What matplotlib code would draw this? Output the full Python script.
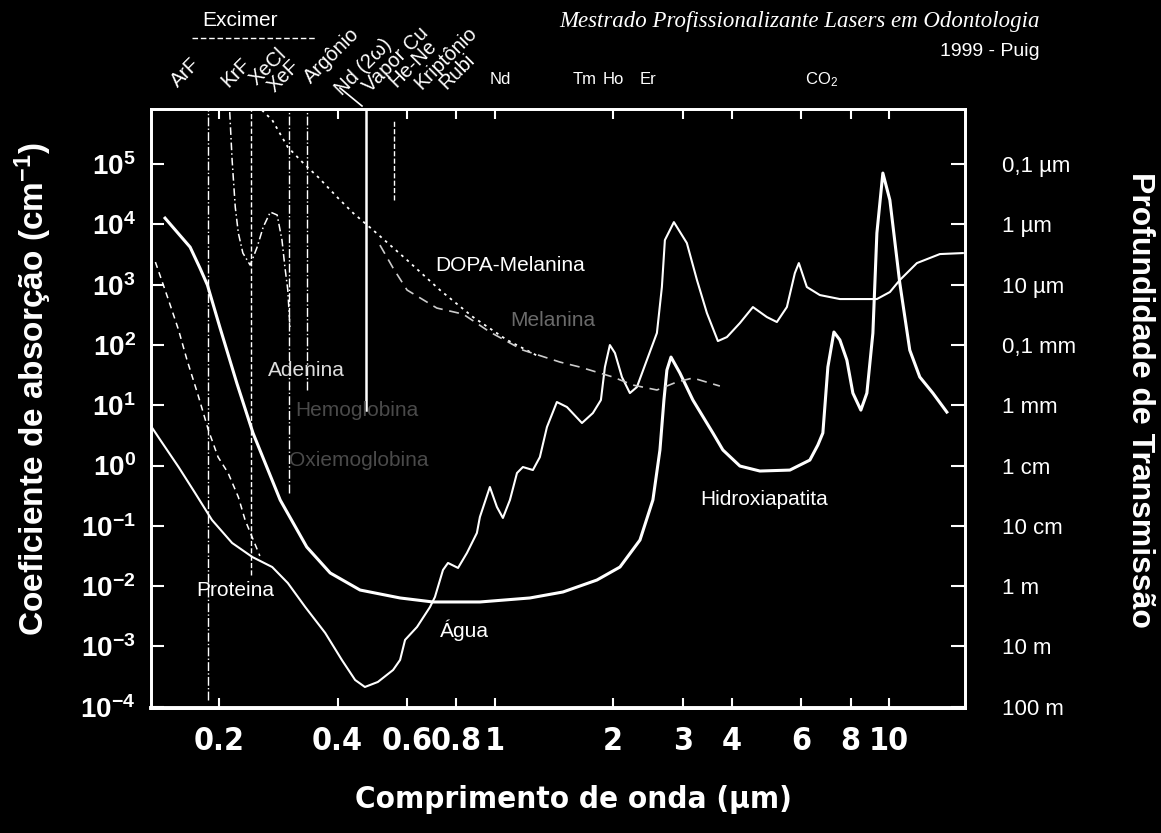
import matplotlib
matplotlib.use('Agg')
import matplotlib.pyplot as plt
from matplotlib.lines import Line2D
from matplotlib.ticker import NullLocator
from matplotlib import font_manager

plt.rcParams['font.family'] = ['Liberation Sans', 'DejaVu Sans']
plt.rcParams['mathtext.fontset'] = 'custom'
plt.rcParams['mathtext.rm'] = 'Liberation Sans'
plt.rcParams['mathtext.bf'] = 'Liberation Sans:bold'
plt.rcParams['mathtext.default'] = 'bf'

## data (wavelength in um, absorption in cm^-1) ##
hap_um = [0.146, 0.159, 0.169, 0.179, 0.187, 0.201, 0.222, 0.244, 0.254, 0.286,
          0.334, 0.383, 0.456, 0.576, 0.698, 0.918, 1.229, 1.491, 1.818, 2.080,
          2.338, 2.521, 2.627, 2.689, 2.736, 2.802, 2.952, 3.184, 3.579, 3.794,
          4.191, 4.709, 5.610, 6.304, 6.607, 6.802, 7.004, 7.255, 7.513, 7.826,
          8.105, 8.492, 8.796, 9.110, 9.325, 9.656, 10.06, 10.66, 11.30, 11.98,
          12.93, 14.03]
hap_abs = [1.27e4, 6650, 4200, 1885, 985, 198, 23.3, 3.46, 1.81, 0.268,
           0.0445, 0.0165, 0.0086, 0.00635, 0.00545, 0.00545, 0.00635, 0.00798, 0.0126, 0.0207,
           0.0581, 0.268, 1.81, 12.2, 38.3, 63.0, 34.2, 12.2, 3.46, 1.81,
           0.98, 0.81, 0.84, 1.23, 2.19, 3.46, 43, 164, 121, 56,
           15.9, 8.3, 15.9, 157, 7170, 7.1e4, 2.53e4, 1060, 82, 29.4,
           15.9, 7.7]

water_um = [0.135, 0.142, 0.158, 0.174, 0.192, 0.216, 0.243, 0.273, 0.299, 0.331,
            0.372, 0.410, 0.443, 0.469, 0.506, 0.553, 0.576, 0.593, 0.636, 0.686,
            0.706, 0.740, 0.762, 0.808, 0.851, 0.902, 0.918, 0.973, 1.014, 1.050,
            1.094, 1.140, 1.180, 1.251, 1.303, 1.358, 1.439, 1.526, 1.666, 1.776,
            1.861, 1.905, 1.961, 2.020, 2.104, 2.204, 2.296, 2.434, 2.581, 2.657,
            2.704, 2.850, 3.074, 3.261, 3.456, 3.685, 3.884, 4.191, 4.521, 4.906,
            5.200, 5.513, 5.776, 5.912, 6.195, 6.684, 7.513, 9.325, 10.06, 10.66,
            11.78, 13.47, 15.40]
water_abs = [4.35, 2.65, 0.944, 0.350, 0.125, 0.0519, 0.0304, 0.0207, 0.01125, 0.0045,
             0.00167, 5.95e-4, 2.77e-4, 2.12e-4, 2.57e-4, 4.06e-4, 5.95e-4, 1.28e-3, 2.10e-3, 4.5e-3,
             6.59e-3, 0.0185, 0.0242, 0.0200, 0.0354, 0.0760, 0.140, 0.440, 0.205, 0.135,
             0.268, 0.751, 0.944, 0.842, 1.38, 4.35, 11.3, 9.34, 5.07, 7.42,
             12.2, 43.0, 99.6, 73.4, 29.4, 15.9, 20.0, 56.2, 158, 913,
             5490, 1.09e4, 4900, 1192, 338, 116, 135, 231, 425, 290,
             240, 425, 1557, 2280, 913, 672, 577, 577, 754, 1192,
             2280, 3217, 3342]

prot_um = [0.138, 0.149, 0.158, 0.166, 0.177, 0.188, 0.199, 0.211, 0.224, 0.233, 0.254]
prot_abs = [2370, 555, 177, 56.2, 14.8, 3.88, 1.38, 0.751, 0.300, 0.125, 0.0316]

ade_um = [0.213, 0.216, 0.220, 0.224, 0.230, 0.240, 0.250, 0.259, 0.270, 0.281,
          0.289, 0.294, 0.299, 0.303]
ade_abs = [7.3e5, 1.16e5, 1.94e4, 7170, 3342, 2113, 4203, 9020, 1.6e4, 1.43e4,
           5490, 1958, 814, 177]

dopa_um = [0.257, 0.273, 0.299, 0.331, 0.357, 0.401, 0.438, 0.492, 0.600, 0.727,
           0.882, 1.075, 1.303]
dopa_abs = [7.86e5, 5.37e5, 1.91e5, 9.62e4, 6.08e4, 2.73e4, 1.54e4, 8040, 2560, 814,
            290, 121, 63]

mel_um = [0.512, 0.553, 0.600, 0.714, 0.832, 0.973, 1.180, 1.465, 1.646, 1.996,
          2.244, 2.581, 2.900, 3.184, 3.728]
mel_abs = [4540, 1885, 814, 409, 325, 164, 82.2, 52, 43, 29.4,
           21.6, 17.9, 24.3, 28.3, 20.8]

# laser lines: wavelength, lower end, upper end
laser_um = [0.188, 0.241, 0.301, 0.334, 0.473, 0.556]
laser_low = [1.3e-4, 0.0153, 0.35, 17.9, 8.3, 2.5e4]
laser_high = [8.2e5, 8.2e5, 8.2e5, 8.2e5, 8.2e5, 5.4e5]
laser_ls = ['-.', '--', '-.', '-.', '-', '--']
laser_lw = [1.0, 1.0, 1.0, 1.0, 1.8, 1.0]

xticks = [0.2, 0.4, 0.6, 0.8, 1, 2, 3, 4, 6, 8, 10]
xticklabels = ['0.2', '0.4', '0.6', '0.8', '1', '2', '3', '4', '6', '8', '10']
decades = list(range(-4, 6))
depth_labels = ['100 m', '10 m', '1 m', '10 cm', '1 cm', '1 mm', '0,1 mm',
                '10 µm', '1 µm', '0,1 µm']

top_names = ['ArF', 'KrF', 'XeCl', 'XeF', 'Argônio', 'Nd (2ω)', 'Vapor Cu',
             'He-Ne', 'Kriptônio', 'Rubi']
top_pos = [(178, 88), (228, 88), (257, 86), (275, 93), (311, 84), (342, 96),
           (370, 93), (396, 88), (422, 90), (446, 90)]
ir_names = ['Nd', 'Tm', 'Ho', 'Er', 'CO$_\\mathrm{2}$']
ir_pos = [(500, 80), (585, 80), (613, 80), (648, 80), (822, 80)]

W, H = 1161, 833
def fx(x):
    return x / W
def fy(y):
    return 1 - y / H

# narrow bold face for the wavelength axis, if one is installed
narrow = None
for f in font_manager.fontManager.ttflist:
    if f.name in ('Liberation Sans Narrow', 'DejaVu Sans') and f.stretch == 'condensed' \
            and f.weight in (700, 'bold'):
        narrow = font_manager.FontProperties(fname=f.fname)
        break
for f in font_manager.fontManager.ttflist:
    if narrow is None and f.name == 'Liberation Sans Narrow' and f.weight in (700, 'bold'):
        narrow = font_manager.FontProperties(fname=f.fname)
if narrow is None:
    narrow = font_manager.FontProperties(family='Liberation Sans', weight='bold')

fig = plt.figure(figsize=(W / 100, H / 100), dpi=100, facecolor='black')
ax = fig.add_axes([fx(151), fy(708), (965 - 151) / W, (708 - 109) / H])
ax.set_facecolor('black')
ax.set_xscale('log')
ax.set_yscale('log')
ax.set_xlim(0.1345, 15.6)
ax.set_ylim(9.5e-5, 8.2e5)

for lam, lo, hi, ls, lw in zip(laser_um, laser_low, laser_high, laser_ls, laser_lw):
    ax.plot([lam, lam], [lo, hi], color='white', ls=ls, lw=lw)

ax.plot(hap_um, hap_abs, color='white', lw=2.2)
ax.plot(water_um, water_abs, color='white', lw=1.5)
ax.plot(prot_um, prot_abs, color='white', lw=1.1, ls=(0, (4, 3)))
ax.plot(ade_um, ade_abs, color='white', lw=1.1, ls=(0, (5, 2, 1, 2)))
ax.plot(dopa_um, dopa_abs, color='white', lw=1.3, ls=(0, (1.5, 2.5)))
ax.plot(mel_um, mel_abs, color='#cccccc', lw=1.2, ls=(0, (6, 4)))

# curve names
ax.text(0.706, 2113, 'DOPA-Melanina', color='white', fontsize=15, va='center')
ax.text(1.094, 259, 'Melanina', color='#6a6a6a', fontsize=15, va='center')
ax.text(0.2663, 38.4, 'Adenina', color='#dddddd', fontsize=15, va='center')
ax.text(0.312, 8.3, 'Hemoglobina', color='#4a4a4a', fontsize=15, va='center')
ax.text(0.3011, 1.23, 'Oxiemoglobina', color='#4a4a4a', fontsize=15, va='center')
ax.text(0.175, 0.0086, 'Proteina', color='white', fontsize=15, va='center')
ax.text(0.727, 0.00187, 'Água', color='white', fontsize=15, va='center')
ax.text(3.318, 0.268, 'Hidroxiapatita', color='white', fontsize=15, va='center')

for s in ax.spines.values():
    s.set_color('white')
    s.set_linewidth(2)
ax.spines['bottom'].set_linewidth(2.8)

ax.set_xticks(xticks)
ax.set_xticklabels(xticklabels, fontproperties=narrow, fontsize=23)
ax.xaxis.set_minor_locator(NullLocator())
ax.set_yticks([10.0 ** k for k in decades])
ax.set_yticklabels(['$10^{%d}$' % k for k in decades], fontsize=20)
ax.yaxis.set_minor_locator(NullLocator())
ax.tick_params(axis='x', direction='in', colors='white', length=7, width=1.5,
               top=True, pad=13)
ax.tick_params(axis='y', direction='in', colors='white', length=9, width=1.5,
               pad=11)

ax2 = ax.twinx()
ax2.set_yscale('log')
ax2.set_ylim(ax.get_ylim())
ax2.set_yticks([10.0 ** k for k in decades])
ax2.set_yticklabels(depth_labels, fontsize=16)
ax2.yaxis.set_minor_locator(NullLocator())
ax2.tick_params(axis='y', direction='in', colors='white', length=10, width=1.5, pad=27)
for s in ax2.spines.values():
    s.set_color('white')
    s.set_linewidth(2)

# axis titles
fig.text(fx(33), fy(389), 'Coeficiente de absorção (cm$^{-1}$)', rotation=90,
         ha='center', va='center', color='white', fontsize=24, fontweight='bold')
fig.text(fx(1140), fy(400), 'Profundidade de Transmissão', rotation=-90,
         ha='center', va='center', color='white', fontsize=23, fontweight='bold')
fig.text(fx(573), fy(800), 'Comprimento de onda (µm)', ha='center', va='center',
         color='white', fontproperties=narrow, fontsize=22.5)

# header
fig.text(fx(1040), fy(22), 'Mestrado Profissionalizante Lasers em Odontologia',
         ha='right', va='center', color='white', fontsize=16.5,
         family='Liberation Serif', style='italic')
fig.text(fx(1040), fy(52), '1999 - Puig', ha='right', va='center',
         color='white', fontsize=14)
fig.text(fx(240), fy(20), 'Excimer', ha='center', va='center', color='white', fontsize=15)
fig.add_artist(Line2D([fx(192), fx(315)], [fy(38), fy(38)], color='white',
                      lw=1, ls=(0, (4, 2))))
fig.add_artist(Line2D([fx(340), fx(362)], [fy(88), fy(106)], color='white', lw=1.2))

for name, (px, py) in zip(top_names, top_pos):
    fig.text(fx(px), fy(py), name, rotation=45, rotation_mode='anchor',
             ha='left', va='baseline', color='white', fontsize=14.5)
for name, (px, py) in zip(ir_names, ir_pos):
    fig.text(fx(px), fy(py), name, ha='center', va='center', color='white', fontsize=12)

fig.savefig('out.png', dpi=100, facecolor='black')
